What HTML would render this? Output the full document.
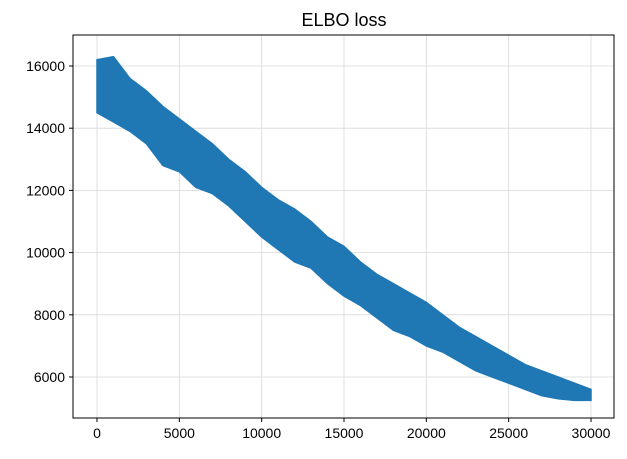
<!DOCTYPE html>
<html><head><meta charset="utf-8"><style>
body{margin:0;background:#fff;font-family:"Liberation Sans",sans-serif}
svg text{font-family:"Liberation Sans",sans-serif}
</style></head><body>
<svg id="c" width="627" height="454">
<text x="344" y="26" text-anchor="middle" font-size="18">ELBO loss</text>
<g id="grid"></g><g id="series"></g><g id="axes"></g>
</svg>
<script>
const steps=[0,1000,2000,3000,4000,5000,6000,7000,8000,9000,10000,11000,12000,13000,14000,15000,16000,17000,18000,19000,20000,21000,22000,23000,24000,25000,26000,27000,28000,29000,30000];
const upper=[16200,16300,15600,15200,14700,14300,13900,13500,13000,12600,12100,11700,11400,11000,10500,10200,9700,9300,9000,8700,8400,8000,7600,7300,7000,6700,6400,6200,6000,5800,5600];
const lower=[14500,14200,13900,13500,12800,12600,12100,11900,11500,11000,10500,10100,9700,9500,9000,8600,8300,7900,7500,7300,7000,6800,6500,6200,6000,5800,5600,5400,5300,5250,5250];
const xTicks=[0,5000,10000,15000,20000,25000,30000];
const yTicks=[6000,8000,10000,12000,14000,16000];
const L=73,R=614,T=35,B=418;
const X=v=>97+(v/30000)*494;
const Y=v=>377-(v-6000)*0.0311;
const NS="http://www.w3.org/2000/svg";
function mk(t,a,p){const e=document.createElementNS(NS,t);for(const k in a)e.setAttribute(k,a[k]);p.appendChild(e);return e;}
const g=document.getElementById('grid'),s=document.getElementById('series'),ax=document.getElementById('axes');
xTicks.forEach(v=>{
 const gl=mk('line',{x1:X(v),x2:X(v),y1:T,y2:B,stroke:'#d8d8d8','stroke-width':0.8},g);
 
 
 mk('line',{x1:X(v),x2:X(v),y1:B,y2:B+4,stroke:'#000'},ax);
 const t=mk('text',{x:X(v),y:B+20,'text-anchor':'middle','font-size':14},ax);t.textContent=v;
 
 
});
yTicks.forEach(v=>{
 const gl=mk('line',{x1:L,x2:R,y1:Y(v),y2:Y(v),stroke:'#d8d8d8','stroke-width':0.8},g);
 
 
 mk('line',{x1:L-4,x2:L,y1:Y(v),y2:Y(v),stroke:'#000'},ax);
 const t=mk('text',{x:L-8,y:Y(v)+5,'text-anchor':'end','font-size':14},ax);t.textContent=v;
 
 
});
let pts=steps.map((st,i)=>X(st)+','+Y(upper[i]));
for(let i=steps.length-1;i>=0;i--)pts.push(X(steps[i])+','+Y(lower[i]));
const band=mk('polygon',{points:pts.join(' '),fill:'#1f77b4',stroke:'#1f77b4','stroke-width':1.5},s);


const fr=mk('rect',{x:L,y:T,width:R-L,height:B-T,fill:'none',stroke:'#000','stroke-width':1},ax);


</script>
</body></html>
